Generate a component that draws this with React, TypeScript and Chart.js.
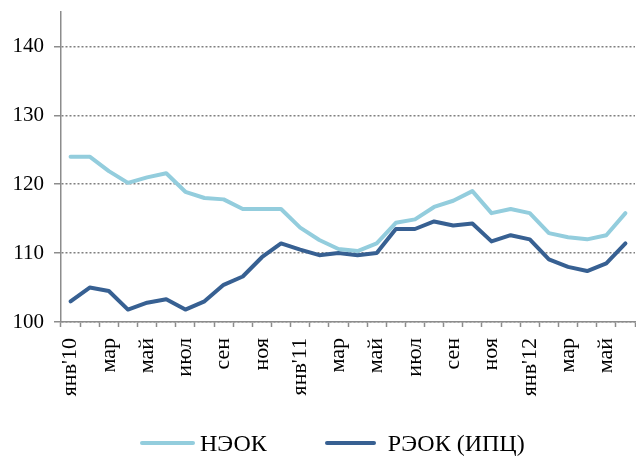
import React, { useEffect, useRef } from "react";
import { Chart, registerables } from "chart.js";

Chart.register(...registerables);

const categories = [
  "янв'10", "фев", "мар", "апр", "май", "июн", "июл", "авг", "сен", "окт", "ноя", "дек",
  "янв'11", "фев", "мар", "апр", "май", "июн", "июл", "авг", "сен", "окт", "ноя", "дек",
  "янв'12", "фев", "мар", "апр", "май", "июн",
];

const neok = [
  124.0, 124.0, 121.9, 120.2, 121.0, 121.6, 118.9, 118.0, 117.8, 116.4, 116.4, 116.4,
  113.7, 111.9, 110.6, 110.3, 111.4, 114.4, 114.9, 116.7, 117.6, 119.0, 115.8, 116.4,
  115.8, 112.9, 112.3, 112.0, 112.6, 115.8,
];

const reok = [
  103.0, 105.0, 104.5, 101.8, 102.8, 103.3, 101.8, 103.0, 105.4, 106.6, 109.4, 111.4,
  110.5, 109.7, 110.0, 109.7, 110.0, 113.5, 113.5, 114.6, 114.0, 114.3, 111.7, 112.6,
  112.0, 109.1, 108.0, 107.4, 108.5, 111.4,
];

const yTicks = [100, 110, 120, 130, 140];

const seriesNames = ["НЭОК", "РЭОК (ИПЦ)"];
const seriesColors = ["#93CDDD", "#376092"];

const FONT = "'Liberation Serif', 'Times New Roman', serif";
const GRAY = "#8c8c8c";

export default function App() {
  const ref = useRef<HTMLCanvasElement | null>(null);

  useEffect(() => {
    if (!ref.current) return;
    const chart = new Chart(ref.current, {
      type: "line",
      data: {
        labels: categories,
        datasets: [
          {
            label: seriesNames[0],
            data: neok,
            borderColor: seriesColors[0],
            backgroundColor: seriesColors[0],
            borderWidth: 4,
            pointRadius: 0,
            tension: 0,
            borderCapStyle: "round",
            borderJoinStyle: "round",
          },
          {
            label: seriesNames[1],
            data: reok,
            borderColor: seriesColors[1],
            backgroundColor: seriesColors[1],
            borderWidth: 4,
            pointRadius: 0,
            tension: 0,
            borderCapStyle: "round",
            borderJoinStyle: "round",
          },
        ],
      },
      options: {
        animation: false,
        responsive: false,
        maintainAspectRatio: false,
        layout: { padding: { top: 12, right: 1, left: 0, bottom: 0 } },
        plugins: {
          legend: { display: false },
          tooltip: { enabled: false },
        },
        scales: {
          x: {
            offset: true,
            grid: {
              offset: true,
              drawOnChartArea: false,
              drawTicks: true,
              tickLength: 5,
              tickColor: GRAY,
              tickWidth: 1.5,
            },
            border: { color: GRAY, width: 1.5 },
            ticks: {
              autoSkip: false,
              maxRotation: 90,
              minRotation: 90,
              padding: 11,
              color: "#000",
              font: { family: FONT, size: 22 },
              callback: (_v: any, i: number) => (i % 2 === 0 ? categories[i] : ""),
            },
            afterFit: (s: any) => {
              s.height = 456 - 322;
              s.paddingLeft = 0;
              s.paddingRight = 0;
            },
          },
          y: {
            min: 100,
            max: 145,
            afterBuildTicks: (s: any) => {
              s.ticks = yTicks.map((v) => ({ value: v }));
            },
            grid: {
              color: "#808080",
              lineWidth: 1.5,
              drawTicks: true,
              tickLength: 7,
              tickColor: GRAY,
              tickWidth: 1.5,
              tickBorderDash: [],
            },
            border: { color: GRAY, width: 1.5, dash: [2, 2] },
            ticks: {
              padding: 10,
              color: "#000",
              font: { family: FONT, size: 21 },
            },
            afterFit: (s: any) => {
              s.width = 61;
              s.paddingTop = 0;
              s.paddingBottom = 0;
            },
          },
        },
      },
    });
    return () => chart.destroy();
  }, []);

  return (
    <div style={{ position: "fixed", left: 0, top: 0, width: 636, height: 456, background: "#fff" }}>
      <canvas ref={ref} width={636} height={456} style={{ display: "block" }} />
      <div
        style={{
          position: "absolute",
          left: 140,
          top: 428,
          height: 30,
          display: "flex",
          alignItems: "center",
          fontFamily: FONT,
          fontSize: 24,
          color: "#000",
          whiteSpace: "nowrap",
        }}
      >
        <span style={{ display: "inline-block", width: 55, height: 4, borderRadius: 2, background: seriesColors[0], marginRight: 5 }} />
        <span style={{ marginRight: 58 }}>{seriesNames[0]}</span>
        <span style={{ display: "inline-block", width: 51, height: 4, borderRadius: 2, background: seriesColors[1], marginRight: 12 }} />
        <span>{seriesNames[1]}</span>
      </div>
    </div>
  );
}
